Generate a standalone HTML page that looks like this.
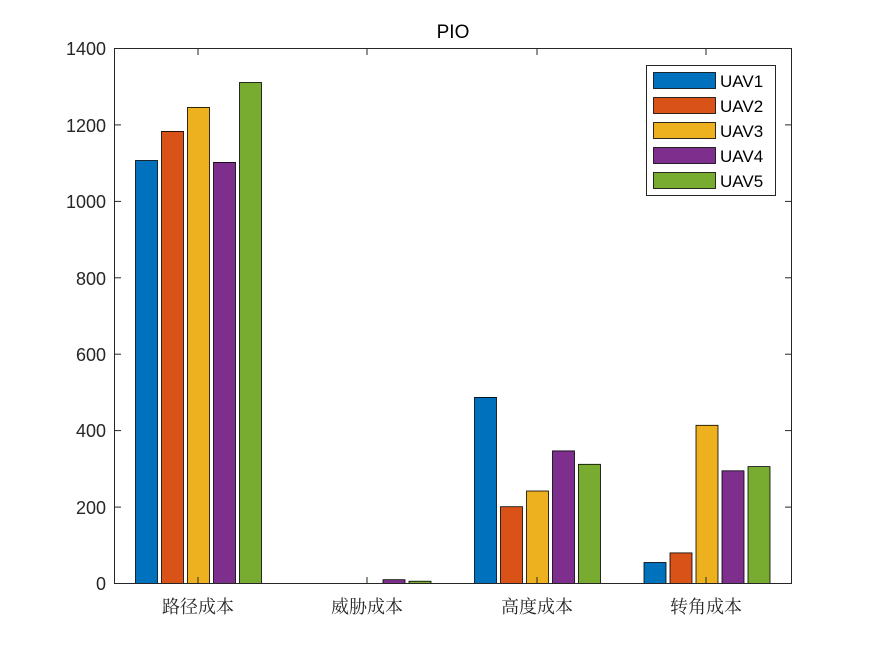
<!DOCTYPE html>
<html><head><meta charset="utf-8"><style>body{margin:0;background:#fff}svg{display:block}</style></head><body>
<svg width="875" height="656" xmlns="http://www.w3.org/2000/svg" font-family="Liberation Sans, Arial, sans-serif">
<rect width="875" height="656" fill="#fff"/>
<g stroke="#000" stroke-width="0.8">
<rect x="135.5" y="160.5" width="22" height="423" fill="#0072BD"/>
<rect x="161.5" y="131.4" width="22" height="452.1" fill="#D95319"/>
<rect x="187.5" y="107.4" width="22" height="476.1" fill="#EDB120"/>
<rect x="213.5" y="162.4" width="22" height="421.1" fill="#7E2F8E"/>
<rect x="239.5" y="82.5" width="22" height="501" fill="#77AC30"/>
<rect x="383" y="579.7" width="22" height="3.8" fill="#7E2F8E"/>
<rect x="409" y="581.2" width="22" height="2.3" fill="#77AC30"/>
<rect x="474.5" y="397.4" width="22" height="186.1" fill="#0072BD"/>
<rect x="500.5" y="506.7" width="22" height="76.8" fill="#D95319"/>
<rect x="526.5" y="491" width="22" height="92.5" fill="#EDB120"/>
<rect x="552.5" y="450.9" width="22" height="132.6" fill="#7E2F8E"/>
<rect x="578.5" y="464.3" width="22" height="119.2" fill="#77AC30"/>
<rect x="644" y="562.5" width="22" height="21" fill="#0072BD"/>
<rect x="670" y="552.9" width="22" height="30.6" fill="#D95319"/>
<rect x="696" y="425.3" width="22" height="158.2" fill="#EDB120"/>
<rect x="722" y="470.8" width="22" height="112.7" fill="#7E2F8E"/>
<rect x="748" y="466.6" width="22" height="116.9" fill="#77AC30"/>
</g>
<rect x="114.5" y="48.5" width="677" height="535" fill="none" stroke="#262626" stroke-width="1"/>
<g stroke="#262626" stroke-width="1">
<line x1="114.5" y1="507.1" x2="121" y2="507.1"/><line x1="114.5" y1="430.6" x2="121" y2="430.6"/><line x1="114.5" y1="354.2" x2="121" y2="354.2"/><line x1="114.5" y1="277.8" x2="121" y2="277.8"/><line x1="114.5" y1="201.4" x2="121" y2="201.4"/><line x1="114.5" y1="124.9" x2="121" y2="124.9"/>
<line x1="791.5" y1="507.1" x2="785" y2="507.1"/><line x1="791.5" y1="430.6" x2="785" y2="430.6"/><line x1="791.5" y1="354.2" x2="785" y2="354.2"/><line x1="791.5" y1="277.8" x2="785" y2="277.8"/><line x1="791.5" y1="201.4" x2="785" y2="201.4"/><line x1="791.5" y1="124.9" x2="785" y2="124.9"/>
<line x1="198" y1="583.5" x2="198" y2="577"/><line x1="367" y1="583.5" x2="367" y2="577"/><line x1="537" y1="583.5" x2="537" y2="577"/><line x1="706" y1="583.5" x2="706" y2="577"/>
<line x1="198" y1="48.5" x2="198" y2="55"/><line x1="367" y1="48.5" x2="367" y2="55"/><line x1="537" y1="48.5" x2="537" y2="55"/><line x1="706" y1="48.5" x2="706" y2="55"/>
</g>
<g font-size="18" fill="#262626" text-anchor="end">
<text x="106" y="590">0</text><text x="106" y="514">200</text><text x="106" y="437">400</text><text x="106" y="361">600</text><text x="106" y="285">800</text><text x="106" y="208">1000</text><text x="106" y="132">1200</text><text x="106" y="55">1400</text>
</g>
<g font-size="18" fill="#262626" text-anchor="middle" font-family="Liberation Serif, Noto Serif CJK SC, serif">
<text x="198" y="613">路径成本</text><text x="367" y="613">威胁成本</text><text x="537" y="613">高度成本</text><text x="706" y="613">转角成本</text>
</g>
<text x="453" y="38" font-size="19" text-anchor="middle" fill="#000">PIO</text>
<rect x="646.5" y="65.5" width="129" height="130" fill="#fff" stroke="#262626"/>
<g stroke="#000" stroke-width="0.8">
<rect x="653.5" y="72.5" width="62" height="16" fill="#0072BD"/>
<rect x="653.5" y="97.5" width="62" height="16" fill="#D95319"/>
<rect x="653.5" y="122.5" width="62" height="16" fill="#EDB120"/>
<rect x="653.5" y="147.5" width="62" height="16" fill="#7E2F8E"/>
<rect x="653.5" y="172.5" width="62" height="16" fill="#77AC30"/>
</g>
<g font-size="17" fill="#000">
<text x="720" y="87">UAV1</text><text x="720" y="112">UAV2</text><text x="720" y="137">UAV3</text><text x="720" y="162">UAV4</text><text x="720" y="187">UAV5</text>
</g>
</svg>
</body></html>
